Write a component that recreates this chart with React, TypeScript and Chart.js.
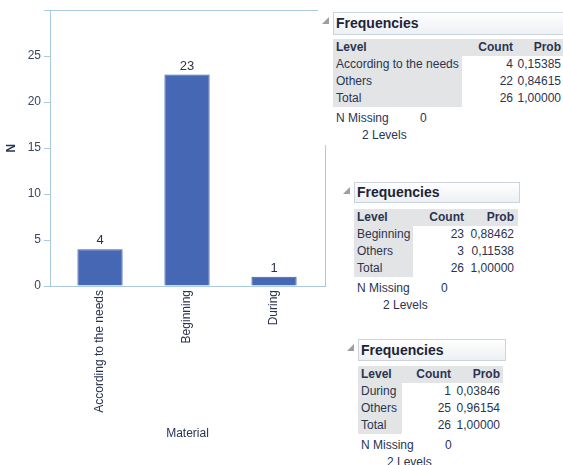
import React, { useEffect, useRef } from "react";
import { Chart, registerables } from "chart.js";

Chart.register(...registerables);

// ---- chart data ----
const categories = ["According to the needs", "Beginning", "During"];
const counts = [4, 23, 1];
const yTickValues = [0, 5, 10, 15, 20, 25, 30];
const yLabelHidden = [30];

// ---- frequency tables data ----
const t1Levels = ["According to the needs", "Others", "Total"];
const t1Counts = [4, 22, 26];
const t1Probs = ["0,15385", "0,84615", "1,00000"];

const t2Levels = ["Beginning", "Others", "Total"];
const t2Counts = [23, 3, 26];
const t2Probs = ["0,88462", "0,11538", "1,00000"];

const t3Levels = ["During", "Others", "Total"];
const t3Counts = [1, 25, 26];
const t3Probs = ["0,03846", "0,96154", "1,00000"];

const nMissing = [0, 0, 0];
const nLevels = [2, 2, 2];

const AXIS = "#a8cbe0";
const TEXT = "#2a3450";
const BAR = "#4667b3";
const GRAY = "#e3e4e6";
const FONT = "'Liberation Sans', Arial, sans-serif";

const framePlugin = {
  id: "frame",
  afterDraw(chart: any) {
    const { ctx, chartArea: a } = chart;
    ctx.save();
    ctx.strokeStyle = AXIS;
    ctx.lineWidth = 1;
    ctx.beginPath();
    ctx.moveTo(a.left, Math.round(a.top) + 0.5);
    ctx.lineTo(Math.round(a.right) + 0.5, Math.round(a.top) + 0.5);
    ctx.lineTo(Math.round(a.right) + 0.5, a.bottom);
    ctx.stroke();
    ctx.restore();
  },
};

const valueLabelPlugin = {
  id: "valueLabels",
  afterDatasetsDraw(chart: any) {
    const { ctx } = chart;
    const meta = chart.getDatasetMeta(0);
    ctx.save();
    ctx.fillStyle = TEXT;
    ctx.font = `13px ${FONT}`;
    ctx.textAlign = "center";
    ctx.textBaseline = "bottom";
    meta.data.forEach((el: any, i: number) => {
      ctx.fillText(String(counts[i]), el.x, el.y - 2);
    });
    ctx.restore();
  },
};

function BarChart() {
  const ref = useRef<HTMLCanvasElement | null>(null);
  useEffect(() => {
    if (!ref.current) return;
    const chart = new Chart(ref.current, {
      type: "bar",
      data: {
        datasets: [
          {
            data: categories.map((c, i) => ({ x: i, y: counts[i] })),
            backgroundColor: BAR,
            borderColor: "#3d5ba6",
            borderWidth: 1,
            barPercentage: 0.52,
            categoryPercentage: 1,
          },
        ],
      },
      options: {
        responsive: false,
        animation: false,
        events: [],
        layout: { padding: { left: 0, right: 5, top: 10, bottom: 20 } },
        plugins: {
          legend: { display: false },
          tooltip: { enabled: false },
          title: { display: false },
        },
        scales: {
          x: {
            type: "linear",
            offset: false,
            min: -0.575,
            max: 2.586,
            afterFit(scale: any) {
              scale.height = 159;
            },
            afterBuildTicks(scale: any) {
              scale.ticks = categories.map((c, i) => ({ value: i }));
            },
            grid: { display: false, drawTicks: false, offset: false },
            border: { color: AXIS, width: 1 },
            ticks: {
              minRotation: 90,
              maxRotation: 90,
              autoSkip: false,
              padding: 4,
              color: TEXT,
              font: { family: FONT, size: 12 },
              callback: (v: any) => categories[v] ?? "",
            },
            title: {
              display: true,
              text: "Material",
              color: TEXT,
              font: { family: FONT, size: 12 },
              padding: { top: 4, bottom: 4 },
            },
          },
          y: {
            min: 0,
            max: 30,
            afterFit(scale: any) {
              scale.width = 50;
            },
            afterBuildTicks(scale: any) {
              scale.ticks = yTickValues.map((v) => ({ value: v }));
            },
            grid: {
              drawOnChartArea: false,
              drawTicks: true,
              tickLength: 6,
              color: AXIS,
            },
            border: { color: AXIS, width: 1 },
            ticks: {
              padding: 3,
              color: "#3a4560",
              font: { family: FONT, size: 12 },
              callback: (v: any) => (yLabelHidden.includes(v) ? "" : String(v)),
            },
            title: {
              display: true,
              text: "N",
              color: TEXT,
              font: { family: FONT, size: 12, weight: "bold" },
              padding: { top: 4, bottom: 4 },
            },
          },
        },
      } as any,
      plugins: [framePlugin, valueLabelPlugin],
    });
    return () => chart.destroy();
  }, []);
  return (
    <canvas
      ref={ref}
      width={330}
      height={465}
      style={{ position: "absolute", left: 0, top: 0, width: 330, height: 465 }}
    />
  );
}

type TableProps = {
  left: number;
  top: number;
  boxW: number;
  headerH: number;
  levelW: number;
  countR: number;
  probR: number;
  rowW: number;
  levels: string[];
  cnts: number[];
  probs: string[];
  missing: number;
  nlev: number;
};

function FreqTable(p: TableProps) {
  const rowH = 17;
  const rowTop = 27;
  const txt: React.CSSProperties = {
    position: "absolute",
    height: rowH,
    lineHeight: rowH + "px",
    fontSize: 12,
    fontFamily: FONT,
    color: TEXT,
    whiteSpace: "nowrap",
  };
  const rows = p.levels.map((lv, i) => {
    const t = rowTop + rowH * (i + 1);
    return (
      <React.Fragment key={i}>
        <div style={{ ...txt, left: 3, top: t }}>{lv}</div>
        <div style={{ ...txt, right: p.boxW - p.countR, top: t, textAlign: "right" }}>{p.cnts[i]}</div>
        <div style={{ ...txt, right: p.boxW - p.probR, top: t, textAlign: "right" }}>{p.probs[i]}</div>
      </React.Fragment>
    );
  });
  return (
    <div style={{ position: "absolute", left: p.left, top: p.top, width: p.boxW, height: 135 }}>
      <div
        style={{
          position: "absolute",
          left: -11,
          top: 5,
          width: 0,
          height: 0,
          borderLeft: "7px solid transparent",
          borderBottom: "7px solid #9a9ea6",
        }}
      />
      <div
        style={{
          position: "absolute",
          left: 0,
          top: 0,
          width: p.boxW,
          height: p.headerH,
          boxSizing: "border-box",
          border: "1px solid #cbd3dd",
          background: "linear-gradient(#ffffff, #edf0f4)",
          fontFamily: FONT,
          fontWeight: "bold",
          fontSize: 14,
          lineHeight: p.headerH - 2 + "px",
          paddingLeft: 2,
          color: "#1e2438",
        }}
      >
        Frequencies
      </div>
      <div style={{ position: "absolute", left: 0, top: rowTop, width: p.rowW, height: rowH, background: GRAY }} />
      <div style={{ position: "absolute", left: 0, top: rowTop, width: p.levelW, height: rowH * 4, background: GRAY }} />
      <div style={{ ...txt, left: 3, top: rowTop, fontWeight: "bold" }}>Level</div>
      <div style={{ ...txt, right: p.boxW - p.countR, top: rowTop, fontWeight: "bold" }}>Count</div>
      <div style={{ ...txt, right: p.boxW - p.probR, top: rowTop, fontWeight: "bold" }}>Prob</div>
      {rows}
      <div style={{ ...txt, left: 3, top: 98 }}>N Missing</div>
      <div style={{ ...txt, left: 87, top: 98 }}>{p.missing}</div>
      <div style={{ ...txt, left: 29, top: 115 }}>{p.nlev} Levels</div>
    </div>
  );
}

export default function App() {
  return (
    <div
      style={{
        position: "absolute",
        left: 0,
        top: 0,
        width: 563,
        height: 465,
        background: "#ffffff",
        overflow: "hidden",
      }}
    >
      <BarChart />
      <div style={{ position: "absolute", left: 318, top: 0, width: 245, height: 145, background: "#fff" }} />
      <FreqTable
        left={333}
        top={12}
        boxW={240}
        headerH={23}
        levelW={129}
        countR={180}
        probR={228}
        rowW={232}
        levels={t1Levels}
        cnts={t1Counts}
        probs={t1Probs}
        missing={nMissing[0]}
        nlev={nLevels[0]}
      />
      <FreqTable
        left={354}
        top={182}
        boxW={166}
        headerH={21}
        levelW={59}
        countR={110}
        probR={160}
        rowW={164}
        levels={t2Levels}
        cnts={t2Counts}
        probs={t2Probs}
        missing={nMissing[1]}
        nlev={nLevels[1]}
      />
      <FreqTable
        left={358}
        top={339}
        boxW={148}
        headerH={22}
        levelW={44}
        countR={93}
        probR={142}
        rowW={145}
        levels={t3Levels}
        cnts={t3Counts}
        probs={t3Probs}
        missing={nMissing[2]}
        nlev={nLevels[2]}
      />
    </div>
  );
}
